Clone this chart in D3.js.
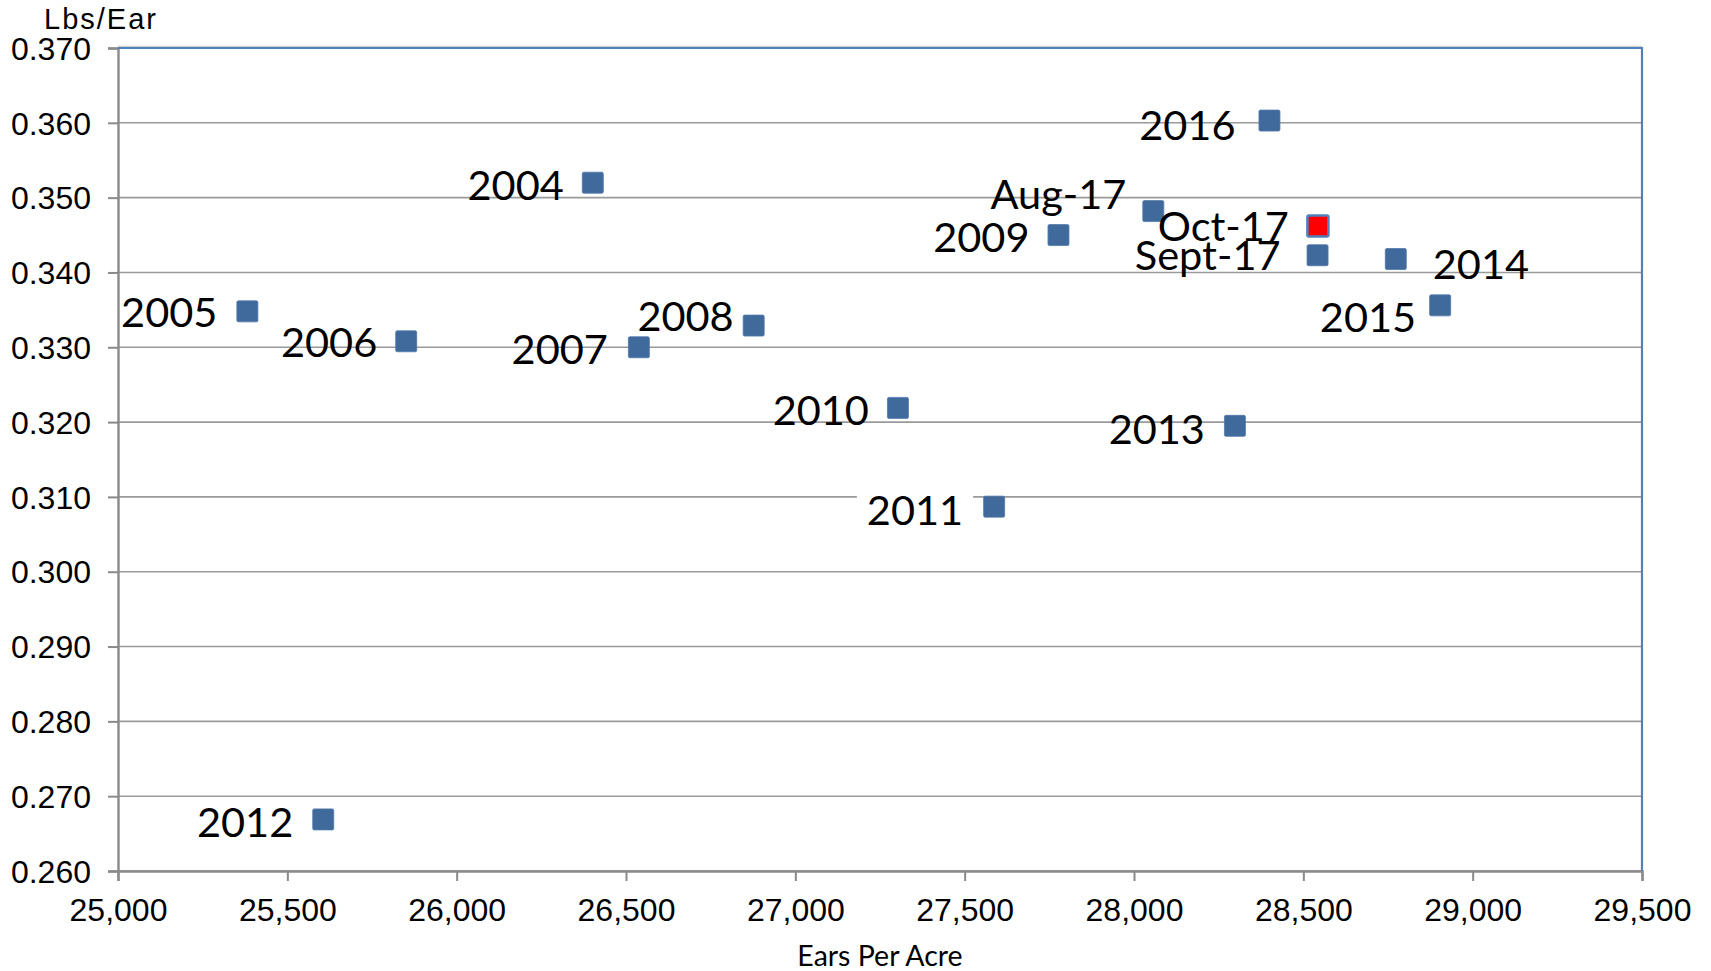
<!DOCTYPE html>
<html>
<head>
<meta charset="utf-8">
<script src="https://cdn.jsdelivr.net/npm/d3@7"></script>
<style>
  html, body { margin: 0; padding: 0; background: #ffffff; overflow: hidden; }
  svg { display: block; }
</style>
</head>
<body>
<svg id="chart" width="1711" height="971"></svg>
<script>
// ---- data ----
const pointLabels = ["2004", "2005", "2006", "2007", "2008", "2009", "2010", "2011", "2012", "2013", "2014", "2015", "2016", "Aug-17", "Sept-17", "Oct-17"];
const earsPerAcre = [26402, 25382, 25851, 26538, 26877, 27777, 27303, 27587, 25606, 28298, 28773, 28904, 28400, 28057, 28542, 28543];
const lbsPerEar   = [0.3520, 0.3348, 0.3308, 0.3300, 0.3329, 0.3450, 0.3219, 0.3087, 0.2669, 0.3195, 0.3418, 0.3356, 0.3603, 0.3482, 0.3423, 0.3462];
const highlightedPoint = "Oct-17";

const xTickValues = [25000, 25500, 26000, 26500, 27000, 27500, 28000, 28500, 29000, 29500];
const yTickValues = [0.26, 0.27, 0.28, 0.29, 0.30, 0.31, 0.32, 0.33, 0.34, 0.35, 0.36, 0.37];
const xTitle = "Ears Per Acre";
const yTitle = "Lbs/Ear";

// ---- layout (label placement relative to each marker, in px) ----
const labelPlacement = {
  "2004":   { dx: -29, dy: 17, anchor: "end" },
  "2005":   { dx: -30, dy: 16, anchor: "end" },
  "2006":   { dx: -29, dy: 16, anchor: "end" },
  "2007":   { dx: -31, dy: 17, anchor: "end" },
  "2008":   { dx: -20, dy: 5,  anchor: "end" },
  "2009":   { dx: -29, dy: 17, anchor: "end" },
  "2010":   { dx: -29, dy: 17, anchor: "end" },
  "2011":   { dx: -31, dy: 18, anchor: "end", background: true },
  "2012":   { dx: -30, dy: 18, anchor: "end" },
  "2013":   { dx: -30, dy: 18, anchor: "end" },
  "2014":   { dx: 37,  dy: 20, anchor: "start" },
  "2015":   { dx: -24, dy: 27, anchor: "end" },
  "2016":   { dx: -34, dy: 19, anchor: "end" },
  "Aug-17": { dx: -27, dy: -2, anchor: "end" },
  "Sept-17":{ dx: -37, dy: 15, anchor: "end" },
  "Oct-17": { dx: -29, dy: 15, anchor: "end" }
};

const points = pointLabels.map((name, i) => ({ name, x: earsPerAcre[i], y: lbsPerEar[i] }));

const plot = { left: 118, right: 1642, top: 48, bottom: 871 };
const svg = d3.select("#chart");

const x = d3.scaleLinear().domain([25000, 29500]).range([plot.left, plot.right]);
const y = d3.scaleLinear().domain([0.26, 0.37]).range([plot.bottom, plot.top]);

const gridColor = "#9a9a9a";
const axisColor = "#8a8a8a";
const borderColor = "#4f81bd";
const tickFont = "'Liberation Sans', Arial, sans-serif";
const labelFont = "Lato, 'Open Sans', sans-serif";

// gridlines
svg.append("g")
  .selectAll("line")
  .data(yTickValues)
  .join("line")
  .attr("x1", plot.left)
  .attr("x2", plot.right)
  .attr("y1", d => y(d))
  .attr("y2", d => y(d))
  .attr("stroke", (d, i) => i === yTickValues.length - 1 ? "#d0d0d0" : gridColor)
  .attr("stroke-width", 1.6)
  .attr("transform", (d, i) => i === yTickValues.length - 1 ? "translate(0,-1.5)" : null);

// y axis
const yAxis = svg.append("g")
  .attr("transform", `translate(${plot.left},0)`)
  .call(d3.axisLeft(y).tickValues(yTickValues).tickFormat(d3.format(".3f")).tickSize(10).tickPadding(17));
yAxis.select(".domain").attr("stroke", axisColor).attr("stroke-width", 2.4);
yAxis.selectAll(".tick line").attr("stroke", axisColor).attr("stroke-width", 2);
yAxis.selectAll(".tick text")
  .attr("font-family", tickFont)
  .attr("font-size", 32)
  .attr("fill", "#000")
  .attr("dy", "0.35em");

// x axis
const xAxis = svg.append("g")
  .attr("transform", `translate(0,${plot.bottom})`)
  .call(d3.axisBottom(x).tickValues(xTickValues).tickFormat(d3.format(",")).tickSize(10).tickPadding(17));
xAxis.select(".domain").attr("stroke", axisColor).attr("stroke-width", 2.4);
xAxis.selectAll(".tick line").attr("stroke", axisColor).attr("stroke-width", 2);
xAxis.selectAll(".tick text")
  .attr("font-family", tickFont)
  .attr("font-size", 32)
  .attr("fill", "#000");

// top and right border (blue)
svg.append("path")
  .attr("d", `M${plot.left},${plot.top}H${plot.right}V${plot.bottom}`)
  .attr("fill", "none")
  .attr("stroke", borderColor)
  .attr("stroke-width", 2.2);

// markers
const size = 21;
svg.append("g")
  .selectAll("rect")
  .data(points)
  .join("rect")
  .attr("x", d => x(d.x) - size / 2)
  .attr("y", d => y(d.y) - size / 2)
  .attr("width", size)
  .attr("height", size)
  .attr("rx", 1.5)
  .attr("fill", d => d.name === highlightedPoint ? "#ff0000" : "#40699c")
  .attr("stroke", d => d.name === highlightedPoint ? "#4f81bd" : "#5079ab")
  .attr("stroke-width", d => d.name === highlightedPoint ? 2.5 : 0.8);

// labels
const labelG = svg.append("g");
points.forEach(d => {
  const p = labelPlacement[d.name];
  const t = labelG.append("text")
    .attr("x", x(d.x) + p.dx)
    .attr("y", y(d.y) + p.dy)
    .attr("text-anchor", p.anchor)
    .attr("font-family", labelFont)
    .attr("font-size", 41.5)
    .attr("fill", "#000")
    .text(d.name);
  if (p.background) {
    const b = t.node().getBBox();
    labelG.insert("rect", () => t.node())
      .attr("x", b.x - 10)
      .attr("y", b.y + 4)
      .attr("width", b.width + 20)
      .attr("height", b.height - 8)
      .attr("fill", "#ffffff");
  }
});

// axis titles
svg.append("text")
  .attr("x", 44)
  .attr("y", 29)
  .attr("font-family", tickFont)
  .attr("font-size", 29)
  .attr("letter-spacing", 2)
  .attr("fill", "#000")
  .text(yTitle);

svg.append("text")
  .attr("x", (plot.left + plot.right) / 2)
  .attr("y", 966)
  .attr("text-anchor", "middle")
  .attr("font-family", labelFont)
  .attr("font-size", 28.5)
  .attr("fill", "#000")
  .text(xTitle);
</script>
</body>
</html>
